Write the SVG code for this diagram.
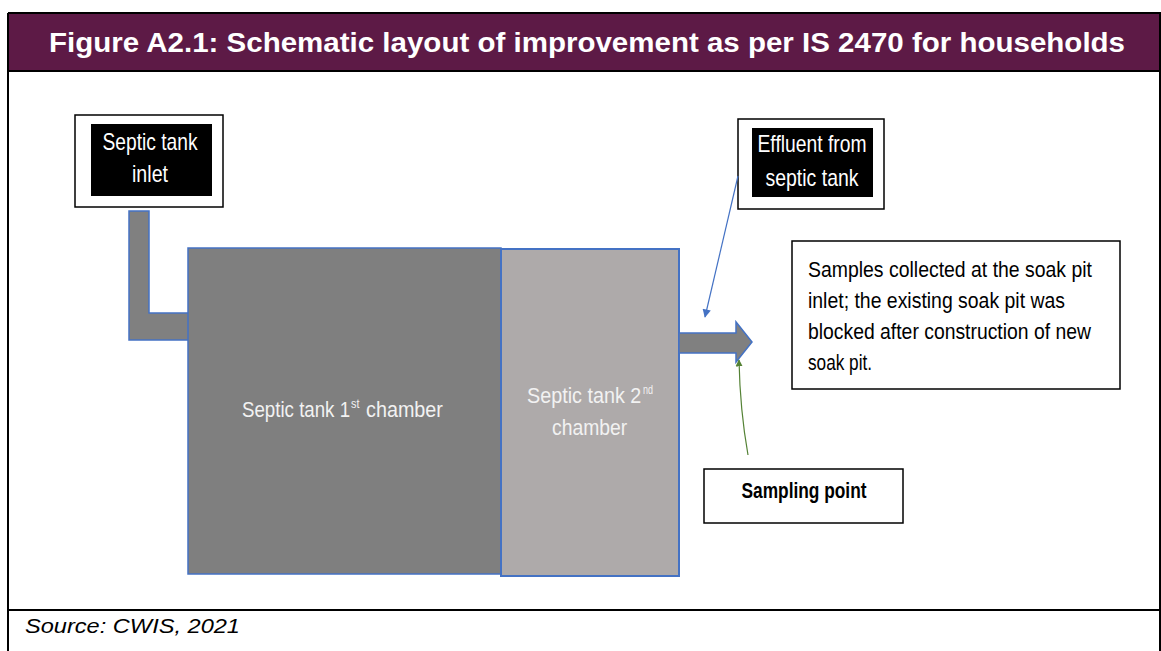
<svg xmlns="http://www.w3.org/2000/svg" width="1161" height="651" viewBox="0 0 1161 651">
<style>
.frame{fill:none;stroke:#000;stroke-width:2}
.box{fill:#fff;stroke:#000;stroke-width:1.5}
.blk{fill:#000}
.lbl{font-family:"Liberation Sans",Arial,sans-serif;font-size:24px;fill:#fff;text-anchor:middle}
.ch{font-family:"Liberation Sans",Arial,sans-serif;font-size:22px;fill:#F2F2F2}
.sup{font-family:"Liberation Sans",Arial,sans-serif;font-size:12px;fill:#F2F2F2}
.body{font-family:"Liberation Sans",Arial,sans-serif;font-size:22px;fill:#000}
.pipe{fill:#808080;stroke:#4472C4;stroke-width:1.5}
</style>
<defs>
<marker id="mb" viewBox="0 0 10 10" refX="9" refY="5" markerWidth="8" markerHeight="7" orient="auto"><path d="M0,0 L10,5 L0,10 z" fill="#4472C4"/></marker>
<marker id="mg" viewBox="0 0 10 10" refX="9" refY="5" markerWidth="6" markerHeight="6" orient="auto"><path d="M0,0 L10,5 L0,10 z" fill="#548235"/></marker>
</defs>
<rect width="1161" height="651" fill="#fff"/>
<g id="frame">
<rect x="8" y="13" width="1152" height="58" fill="#5D1A46"/>
<path class="frame" d="M8,13 H1160 V651 M8,13 V651 M8,71 H1160 M8,610 H1160"/>
<text x="587" y="52" font-family="'Liberation Sans',Arial,sans-serif" font-size="28" font-weight="bold" fill="#fff" text-anchor="middle" textLength="1076" lengthAdjust="spacingAndGlyphs">Figure A2.1: Schematic layout of improvement as per IS 2470 for households</text>
<text x="25" y="633" font-family="'Liberation Sans',Arial,sans-serif" font-size="20" font-style="italic" fill="#000" textLength="215" lengthAdjust="spacingAndGlyphs">Source: CWIS, 2021</text>
</g>
<g id="inlet-pipe">
<path class="pipe" d="M129,211 H149 V313 H189 V340 H129 Z"/>
</g>
<g id="chamber1">
<rect x="188" y="248" width="313" height="326" fill="#7F7F7F" stroke="#4472C4" stroke-width="1.5"/>
<text class="ch" transform="translate(242,417) scale(0.85,1)">Septic tank 1</text>
<text class="sup" transform="translate(351,408) scale(0.9,1)">st</text>
<text class="ch" transform="translate(366,417) scale(0.9,1)">chamber</text>
</g>
<g id="chamber2">
<rect x="501" y="249" width="178" height="327" fill="#AEAAAA" stroke="#4472C4" stroke-width="2"/>
<text class="ch" transform="translate(527,403) scale(0.9,1)">Septic tank 2</text>
<text class="sup" transform="translate(643,394) scale(0.75,1)">nd</text>
<text class="ch" transform="translate(552,435) scale(0.88,1)">chamber</text>
</g>
<g id="outlet-arrow">
<path class="pipe" d="M679,333 H736 V322 L752,342 L736,362 V353 H679 Z"/>
</g>
<g id="inlet-label">
<rect class="box" x="75" y="115" width="148" height="92"/>
<rect class="blk" x="91" y="124" width="121" height="72"/>
<text class="lbl" x="150" y="150" textLength="95" lengthAdjust="spacingAndGlyphs">Septic tank</text>
<text class="lbl" x="150" y="182" textLength="36" lengthAdjust="spacingAndGlyphs">inlet</text>
</g>
<g id="effluent-label">
<rect class="box" x="738" y="119" width="146" height="90"/>
<rect class="blk" x="752" y="128" width="121" height="69"/>
<text class="lbl" x="812" y="152" textLength="109" lengthAdjust="spacingAndGlyphs">Effluent from</text>
<text class="lbl" x="812" y="186" textLength="93" lengthAdjust="spacingAndGlyphs">septic tank</text>
</g>
<g id="note">
<rect class="box" x="792" y="241" width="328" height="148"/>
<text class="body" x="808" y="277" textLength="284" lengthAdjust="spacingAndGlyphs">Samples collected at the soak pit</text>
<text class="body" x="808" y="308" textLength="257" lengthAdjust="spacingAndGlyphs">inlet; the existing soak pit was</text>
<text class="body" x="808" y="339" textLength="283" lengthAdjust="spacingAndGlyphs">blocked after construction of new</text>
<text class="body" x="808" y="370" textLength="64" lengthAdjust="spacingAndGlyphs">soak pit.</text>
</g>
<g id="sampling-point">
<rect class="box" x="704" y="469" width="199" height="54"/>
<text class="body" x="804" y="498" font-weight="bold" text-anchor="middle" textLength="125" lengthAdjust="spacingAndGlyphs">Sampling point</text>
</g>
<g id="connectors">
<line x1="738" y1="176" x2="705" y2="317" stroke="#4472C4" stroke-width="1.2" marker-end="url(#mb)"/>
<path d="M748,455 Q740,410 739,360" fill="none" stroke="#548235" stroke-width="1.2" marker-end="url(#mg)"/>
</g>
</svg>
